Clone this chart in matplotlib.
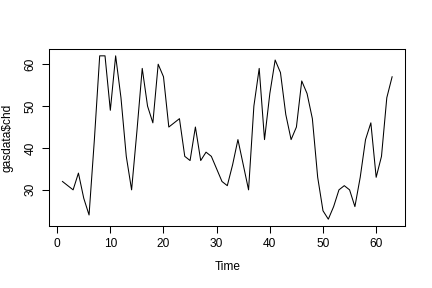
import matplotlib
matplotlib.use("Agg")
import matplotlib.pyplot as plt
import numpy as np

plt.rcParams['font.family'] = ['Liberation Sans', 'DejaVu Sans']

# gasdata$chd
chd = [32, 31, 30, 34, 28, 24, 42, 62, 62, 49,
       62, 52, 38, 30, 44, 59, 50, 46, 60, 57,
       45, 46, 47, 38, 37, 45, 37, 39, 38, 35,
       32, 31, 36, 42, 36, 30, 50, 59, 42, 53,
       61, 58, 48, 42, 45, 56, 53, 47, 33, 25,
       23, 26, 30, 31, 30, 26, 33, 42, 46, 33,
       38, 52, 57]
time = np.arange(1, len(chd) + 1)
xticks = [0, 10, 20, 30, 40, 50, 60]
yticks = [30, 40, 50, 60]

fig = plt.figure(figsize=(4.32, 2.88), dpi=100)
ax = fig.add_axes([0.1141, 0.2163, 0.8241, 0.6125])
ax.plot(time, chd, color='black', linewidth=0.75)

# R style 4% padding
ax.margins(x=0.04, y=0.04)
ax.set_xticks(xticks)
ax.set_yticks(yticks)
ax.set_yticklabels([str(v) for v in yticks], rotation=90, va='center')
ax.tick_params(length=5, width=0.75, labelsize=8.6, pad=4)
for s in ax.spines.values():
    s.set_linewidth(0.75)

ax.set_xlabel('Time', fontsize=8.6, labelpad=8)
ax.set_ylabel('gasdata$chd', fontsize=8.6, labelpad=8)

fig.savefig('out.png', dpi=100)
